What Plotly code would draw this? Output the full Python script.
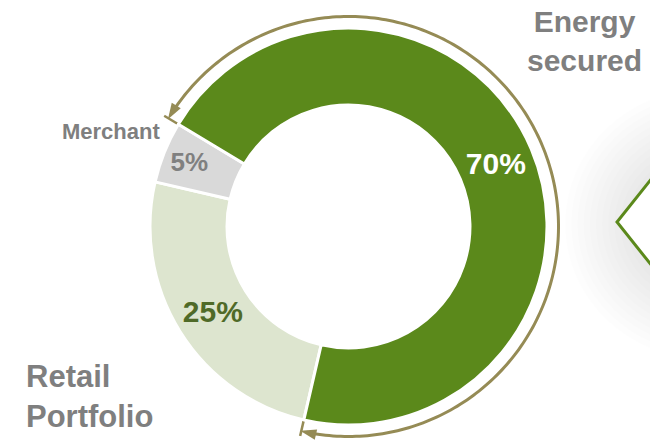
import numpy as np
import plotly.graph_objects as go

# ---- data ----
labels = ["Retail Portfolio", "Merchant", "Energy secured"]
values = [25, 5, 70]
pct_text = ["25%", "5%", "70%"]
label_lines = ["Retail<br>Portfolio", "Merchant", "Energy<br>secured"]

# ---- styles ----
slice_colors = ["#dde5cf", "#d9d9d9", "#5b891b"]
text_colors = ["#4f6a28", "#808080", "#ffffff"]
text_sizes = [30, 26, 30]
arc_color = "#958b55"
label_color = "#7f7f7f"
FONT = "Liberation Sans"

W, H = 650, 442
cx, cy, R = 348.5, 226.5, 198.5
hole = 0.612
rotation = 193
arc_R = 210
polar_R = 215

fig = go.Figure()

# decoration on the right: soft shadow + chevron box
shapes = []
n_layers = 14
for i in range(n_layers):
    f = i / (n_layers - 1)
    rx = 140 - 80 * f
    ry = 135 - 80 * f
    shapes.append(dict(type="circle", xref="x", yref="y",
                       x0=705 - rx, x1=705 + rx, y0=224 - ry, y1=224 + ry,
                       fillcolor="rgba(0,0,0,0.0075)", line=dict(width=0), layer="below"))
shapes.append(dict(type="path", xref="x", yref="y",
                   path="M 660 168 L 617 222 L 660 276 Z",
                   fillcolor="white", line=dict(color="#5b891b", width=3), layer="below"))

fig.add_trace(go.Pie(
    labels=labels, values=values, text=pct_text, textinfo="text",
    sort=False, direction="clockwise", rotation=rotation, hole=hole,
    marker=dict(colors=slice_colors, line=dict(color="white", width=3)),
    textposition="inside", insidetextorientation="horizontal",
    textfont=dict(family=FONT, size=text_sizes, color=text_colors, weight="bold"),
    domain=dict(x=[(cx - R) / W, (cx + R) / W], y=[(H - cy - R) / H, (H - cy + R) / H]),
    showlegend=False, hoverinfo="skip",
))

# arc around the "Energy secured" slice, derived from the data
total = sum(values)
start = rotation + 360 * sum(values[:2]) / total
end = start + 360 * values[2] / total
theta = np.linspace(start + 1.5, end - 1.5, 240)
fig.add_trace(go.Scatterpolar(r=np.full_like(theta, arc_R), theta=theta, mode="lines",
                              line=dict(color=arc_color, width=3), showlegend=False,
                              hoverinfo="skip", subplot="polar"))
fig.add_trace(go.Scatterpolar(r=[R + 1, arc_R + 7, None, R + 1, arc_R + 7],
                              theta=[start, start, None, end, end], mode="lines",
                              line=dict(color=arc_color, width=2.5), showlegend=False,
                              hoverinfo="skip", subplot="polar"))
fig.add_trace(go.Scatterpolar(r=[arc_R, arc_R], theta=[start - 0.3, end + 0.3], mode="markers",
                              marker=dict(symbol="arrow", size=17, color=arc_color,
                                          angle=[start - 90, end + 90]),
                              showlegend=False, hoverinfo="skip", subplot="polar"))

fig.update_layout(
    width=W, height=H, margin=dict(l=0, r=0, t=0, b=0),
    paper_bgcolor="white", plot_bgcolor="white",
    xaxis=dict(range=[0, W], visible=False, domain=[0, 1], fixedrange=True),
    yaxis=dict(range=[H, 0], visible=False, domain=[0, 1], fixedrange=True),
    polar=dict(
        domain=dict(x=[(cx - polar_R) / W, (cx + polar_R) / W],
                    y=[(H - cy - polar_R) / H, (H - cy + polar_R) / H]),
        bgcolor="rgba(0,0,0,0)",
        radialaxis=dict(range=[0, polar_R], visible=False),
        angularaxis=dict(rotation=90, direction="clockwise", visible=False),
    ),
    shapes=shapes,
    annotations=[
        dict(xref="x", yref="y", x=584, y=41, text=label_lines[2], showarrow=False,
             align="center", font=dict(family=FONT, size=30, color=label_color, weight="bold")),
        dict(xref="x", yref="y", x=111, y=131, text=label_lines[1], showarrow=False,
             align="center", font=dict(family=FONT, size=22, color=label_color, weight="bold")),
        dict(xref="x", yref="y", x=24, y=396, xanchor="left", text=label_lines[0], showarrow=False,
             align="left", font=dict(family=FONT, size=31, color=label_color, weight="bold")),
    ],
)

fig.write_html("out.html", config={"displayModeBar": False},
               post_script="document.body.style.margin='0px';")
